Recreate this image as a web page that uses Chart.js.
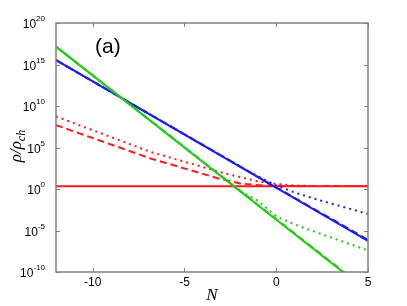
<!DOCTYPE html>
<html lang="en">
<head>
<meta charset="UTF-8">
<title>rho / rho_ch vs N</title>
<script src="https://cdn.jsdelivr.net/npm/chart.js"></script>
<style>
    body { margin: 0; padding: 0; background: #fff; }
    #wrap { width: 407px; height: 306px; }
</style>
</head>
<body>
<div id="wrap"><canvas id="chart" width="407" height="306"></canvas></div>
<script>
// values are log10(rho/rho_ch) at the given N
const redSolidN = [-12, 5];
const redSolidLog = [0.33, 0.33];
const redDotN = [-12, -9.5, -6.85, -4.8, -2.79, -0.89, 0, 1, 2, 5];
const redDotLog = [8.75, 6.67, 4.47, 3.16, 1.87, 0.86, 0.62, 0.42, 0.36, 0.35];
const redDashN = [-12, -6.85, -3.15, -1.97, -0.9, 0.5, 5];
const redDashLog = [7.7, 3.68, 1.27, 0.66, 0.45, 0.37, 0.35];

const blueSolidN = [-12, 5];
const blueSolidLog = [15.54, -6.26];
const blueDotN = [-12, -2, -1, 0, 1, 2, 3, 5];
const blueDotLog = [15.54, 2.74, 1.52, 0.43, -0.42, -1.12, -1.76, -3.0];
const blueDashN = [-12, 0, 5];
const blueDashLog = [15.54, 0.18, -6.12];

const greenSolidN = [-12, 4];
const greenSolidLog = [17.15, -10.64];
const greenDotN = [-12, -2, -1, 0, 1, 2, 3, 5];
const greenDotLog = [17.15, -0.21, -1.41, -3.30, -4.27, -5.07, -5.85, -7.40];
const greenDashN = [-12, 0, 4];
const greenDashLog = [17.15, -3.62, -10.55];

const xTicks = [-10, -5, 0, 5];
const yTickExp = [20, 15, 10, 5, 0, -5, -10];

const RED = '#ff1a1a', BLUE = '#1a1aff', GREEN = '#22cc11';

function pts(ns, logs) {
    return ns.map((n, i) => ({ x: n, y: Math.pow(10, logs[i]) }));
}

function series(ns, logs, color, dash) {
    return {
        data: pts(ns, logs),
        borderColor: color,
        borderWidth: 2,
        borderDash: dash,
        pointRadius: 0,
        tension: 0,
        fill: false
    };
}

const FRAME = '#808080';

const framePlugin = {
    id: 'frame',
    afterDraw(chart) {
        const ctx = chart.ctx;
        const a = chart.chartArea;
        const xs = chart.scales.x, ys = chart.scales.y;
        ctx.save();
        ctx.strokeStyle = FRAME;
        ctx.lineWidth = 1.5;
        ctx.strokeRect(a.left, a.top, a.right - a.left, a.bottom - a.top);

        // inward ticks
        ctx.lineWidth = 1;
        ctx.beginPath();
        xTicks.forEach(v => {
            const px = Math.round(xs.getPixelForValue(v)) + 0.5;
            ctx.moveTo(px, a.bottom); ctx.lineTo(px, a.bottom - 4);
            ctx.moveTo(px, a.top); ctx.lineTo(px, a.top + 4);
        });
        yTickExp.forEach(e => {
            const py = Math.round(ys.getPixelForValue(Math.pow(10, e))) + 0.5;
            ctx.moveTo(a.left, py); ctx.lineTo(a.left + 4, py);
            ctx.moveTo(a.right, py); ctx.lineTo(a.right - 4, py);
        });
        ctx.stroke();

        // x tick labels
        ctx.fillStyle = '#000';
        ctx.font = '12px "Liberation Sans", Arial, sans-serif';
        ctx.textAlign = 'center';
        ctx.textBaseline = 'middle';
        xTicks.forEach(v => {
            ctx.fillText(String(v), xs.getPixelForValue(v), a.bottom + 11);
        });

        // y tick labels 10^e
        yTickExp.forEach(e => {
            const py = ys.getPixelForValue(Math.pow(10, e));
            const sup = String(e);
            ctx.font = '8px "Liberation Sans", Arial, sans-serif';
            const sw = ctx.measureText(sup).width;
            ctx.textAlign = 'left';
            ctx.textBaseline = 'middle';
            const right = a.left - 11;
            ctx.fillText(sup, right - sw, py - 4);
            ctx.font = '12px "Liberation Sans", Arial, sans-serif';
            ctx.textAlign = 'right';
            ctx.fillText('10', right - sw, py + 2);
        });

        // x title
        ctx.font = 'italic 17px "Liberation Serif", "Times New Roman", serif';
        ctx.textAlign = 'center';
        ctx.textBaseline = 'middle';
        ctx.fillText('N', (a.left + a.right) / 2, 296);

        // y title rho/rho_ch
        ctx.translate(17, 146);
        ctx.rotate(-Math.PI / 2);
        const big = 'italic 17px "Liberation Serif", "Times New Roman", serif';
        const small = 'italic 12px "Liberation Serif", "Times New Roman", serif';
        ctx.font = big;
        const w1 = ctx.measureText('\u03c1/\u03c1').width;
        ctx.font = small;
        const w2 = ctx.measureText('ch').width;
        let x0 = -(w1 + w2) / 2;
        ctx.textAlign = 'left';
        ctx.textBaseline = 'alphabetic';
        ctx.font = big;
        ctx.fillText('\u03c1/\u03c1', x0, 4);
        ctx.font = small;
        ctx.fillText('ch', x0 + w1, 8);
        ctx.restore();

        // panel label
        ctx.save();
        ctx.fillStyle = '#000';
        ctx.font = '21px "Liberation Sans", Arial, sans-serif';
        ctx.textAlign = 'left';
        ctx.textBaseline = 'middle';
        ctx.fillText('(a)', 95, 47);
        ctx.restore();
    }
};

new Chart(document.getElementById('chart'), {
    type: 'line',
    data: {
        datasets: [
            series(greenSolidN, greenSolidLog, GREEN, []),
            series(greenDashN, greenDashLog, GREEN, [7, 4]),
            series(greenDotN, greenDotLog, GREEN, [2, 4]),
            series(blueSolidN, blueSolidLog, BLUE, []),
            series(blueDashN, blueDashLog, BLUE, [7, 4]),
            series(blueDotN, blueDotLog, BLUE, [2, 4]),
            series(redDashN, redDashLog, RED, [7, 4]),
            series(redDotN, redDotLog, RED, [2, 4]),
            series(redSolidN, redSolidLog, RED, [])
        ]
    },
    options: {
        responsive: false,
        animation: false,
        layout: { padding: { left: 56, right: 39, top: 23, bottom: 34 } },
        plugins: { legend: { display: false }, tooltip: { enabled: false } },
        scales: {
            x: {
                type: 'linear',
                min: -12,
                max: 5,
                display: false
            },
            y: {
                type: 'logarithmic',
                min: 1e-10,
                max: 1e20,
                display: false
            }
        }
    },
    plugins: [framePlugin]
});
</script>
</body>
</html>
